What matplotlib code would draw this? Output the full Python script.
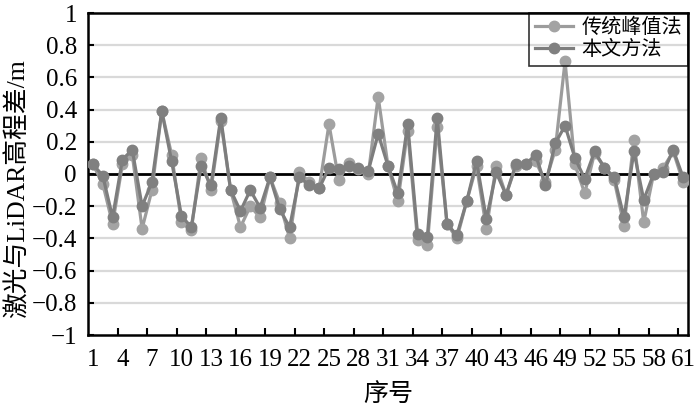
import matplotlib
matplotlib.use("Agg")
import matplotlib.pyplot as plt
import numpy as np

plt.rcParams['font.family'] = ['Liberation Serif', 'Noto Sans CJK SC', 'DejaVu Sans']

# Data
idx = list(range(1, 62))
traditional = [0.06, -0.06, -0.31, 0.06, 0.12, -0.34, -0.10, 0.39, 0.12, -0.30,
               -0.35, 0.10, -0.10, 0.33, -0.10, -0.33, -0.20, -0.27, -0.02, -0.18,
               -0.40, 0.01, -0.05, -0.09, 0.31, -0.04, 0.07, 0.03, 0.00, 0.48,
               0.05, -0.17, 0.27, -0.41, -0.44, 0.29, -0.31, -0.40, -0.17, 0.05,
               -0.34, 0.05, -0.13, 0.05, 0.06, 0.08, -0.05, 0.15, 0.70, 0.06,
               -0.12, 0.13, 0.04, -0.04, -0.32, 0.21, -0.30, 0.00, 0.04, 0.14,
               -0.05]
proposed = [0.06, -0.01, -0.27, 0.09, 0.15, -0.20, -0.05, 0.39, 0.08, -0.26,
            -0.33, 0.05, -0.07, 0.35, -0.10, -0.23, -0.10, -0.21, -0.02, -0.22,
            -0.33, -0.02, -0.07, -0.09, 0.04, 0.03, 0.05, 0.04, 0.02, 0.25,
            0.05, -0.12, 0.31, -0.37, -0.39, 0.35, -0.31, -0.38, -0.17, 0.08,
            -0.28, 0.01, -0.13, 0.06, 0.06, 0.12, -0.07, 0.19, 0.30, 0.10,
            -0.03, 0.14, 0.04, -0.02, -0.27, 0.14, -0.16, 0.00, 0.01, 0.15,
            -0.02]
series_names = ['传统峰值法', '本文方法']
x_ticks = list(range(1, 62, 3))
y_ticks = [-1, -0.8, -0.6, -0.4, -0.2, 0, 0.2, 0.4, 0.6, 0.8, 1]
y_ticklabels = ['\u22121', '\u22120.8', '\u22120.6', '\u22120.4', '\u22120.2', '0',
                '0.2', '0.4', '0.6', '0.8', '1']

fig = plt.figure(figsize=(7.0, 4.13), dpi=100)
ax = fig.add_axes([88/700, 1-335/413, 600/700, 322/413])

# grid
for yv in y_ticks:
    if yv in (-1, 1):
        continue
    if yv == 0:
        ax.axhline(0, color='black', lw=2.0, zorder=2)
    else:
        ax.axhline(yv, color='#d9d9d9', lw=1.6, zorder=1)

ax.plot(idx, traditional, color='#9c9c9c', lw=2.3, marker='o', ms=7.5,
        markerfacecolor='#a3a3a3', markeredgecolor='#a3a3a3', label=series_names[0], zorder=3)
ax.plot(idx, proposed, color='#7d7d7d', lw=2.3, marker='o', ms=7.5,
        markerfacecolor='#808080', markeredgecolor='#808080', label=series_names[1], zorder=4)

ax.set_xlim(0.5, 61.5)
ax.set_ylim(-1, 1)
ax.set_yticks(y_ticks)
ax.set_yticklabels(y_ticklabels, fontsize=18)
ax.set_xticks(x_ticks)
ax.set_xticklabels([str(v) for v in x_ticks], fontsize=18)
ax.tick_params(axis='x', length=0, pad=10)
ax.tick_params(axis='y', direction='in', length=4, width=1.5, pad=8)
ax.set_xticks(np.arange(3.5, 61, 3), minor=True)
ax.tick_params(axis='x', which='minor', direction='in', length=5, width=1.5)

for s in ax.spines.values():
    s.set_color('black')
    s.set_linewidth(1.8)

ax.set_ylabel('激光与LiDAR高程差/m', fontsize=18.5)
ax.yaxis.set_label_coords(-0.097, 0.455)
ax.set_xlabel('序号', fontsize=18)
ax.xaxis.set_label_coords(0.5, -0.148)

leg = ax.legend(loc='upper right', fontsize=14.5, frameon=True, fancybox=False,
                borderaxespad=0, handlelength=1.9, handletextpad=0.4,
                borderpad=0.3, labelspacing=0.15)
leg.get_frame().set_edgecolor('black')
leg.get_frame().set_facecolor('none')
leg.get_frame().set_linewidth(1.2)

fig.savefig('out.png', dpi=100)
